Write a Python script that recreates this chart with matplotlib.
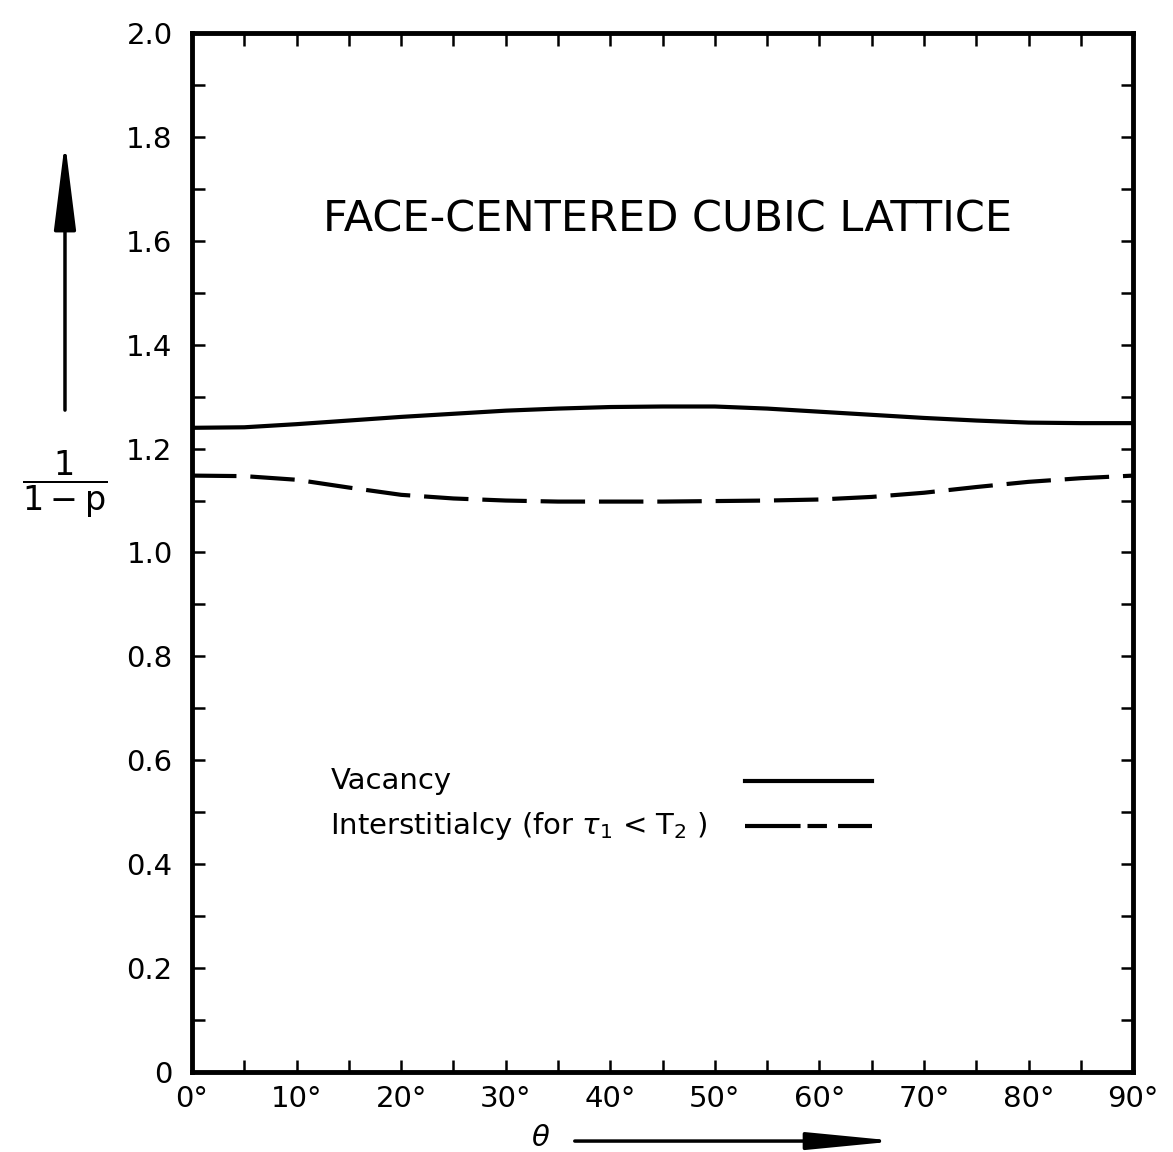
import matplotlib
matplotlib.use("Agg")
import matplotlib.pyplot as plt
from matplotlib.lines import Line2D
from matplotlib.patches import FancyArrowPatch
import numpy as np

plt.rcParams['font.family'] = ['DejaVu Sans']
plt.rcParams['mathtext.fontset'] = 'dejavusans'
plt.rcParams['lines.scale_dashes'] = False

theta = [0, 5, 10, 15, 20, 25, 30, 35, 40, 45, 50, 55, 60, 65, 70, 75, 80, 85, 90]
vacancy = [1.240, 1.241, 1.247, 1.254, 1.261, 1.267, 1.273, 1.277, 1.280, 1.281,
           1.281, 1.277, 1.271, 1.265, 1.259, 1.254, 1.250, 1.249, 1.249]
interstitialcy = [1.148, 1.147, 1.140, 1.125, 1.111, 1.104, 1.100, 1.098, 1.098, 1.098,
                  1.099, 1.100, 1.102, 1.107, 1.115, 1.126, 1.136, 1.143, 1.148]

xticks = [0, 10, 20, 30, 40, 50, 60, 70, 80, 90]
xticklabels = ['0°', '10°', '20°', '30°', '40°', '50°', '60°', '70°', '80°', '90°']
yticks = [0, 0.2, 0.4, 0.6, 0.8, 1.0, 1.2, 1.4, 1.6, 1.8, 2.0]
yticklabels = ['0', '0.2', '0.4', '0.6', '0.8', '1.0', '1.2', '1.4', '1.6', '1.8', '2.0']

title = 'FACE-CENTERED CUBIC LATTICE'
labels = ['Vacancy', r'Interstitialcy (for $\tau_1$ < T$_2$ )']

fig = plt.figure(figsize=(11.73, 11.52), dpi=100)
ax = fig.add_axes([0.1637, 0.0694, 0.8023, 0.902])

DASH = (32, 10)
ax.plot(theta, vacancy, color='black', lw=3.0, solid_capstyle='butt')
ax.plot(theta, interstitialcy, color='black', lw=3.0, dashes=DASH, dash_capstyle='butt')

ax.set_xlim(0, 90)
ax.set_ylim(0, 2.0)
ax.set_xticks(xticks)
ax.set_xticklabels(xticklabels)
ax.set_xticks(np.arange(5, 90, 10), minor=True)
ax.set_yticks(yticks)
ax.set_yticklabels(yticklabels)
ax.set_yticks(np.arange(0.1, 2.0, 0.2), minor=True)

ax.tick_params(which='both', direction='in', top=True, right=True, length=9, width=1.8,
               labelsize=21, color='black')
ax.tick_params(axis='y', which='major', labelright=False, pad=14)
ax.tick_params(axis='x', which='major', pad=9)
for s in ax.spines.values():
    s.set_linewidth(3.5)

ax.text(0.505, 0.82, title, transform=ax.transAxes, ha='center', va='center',
        fontsize=31)

# legend: text on the left, line samples aligned on the right
legend_rows_y = [0.280, 0.237]
for lab, yy, ls in zip(labels, legend_rows_y, ['solid', 'dashed']):
    ax.text(0.147, yy, lab, transform=ax.transAxes, ha='left', va='center', fontsize=21)
    ln = Line2D([0.5877, 0.7226], [yy, yy], transform=ax.transAxes, color='black', lw=3.0)
    if ls == 'dashed':
        ln.set_dashes((40, 5, 14, 8))
    ax.add_line(ln)

# y label with arrow
fig.text(0.0554, 0.580, r'$\dfrac{1}{1-\mathrm{p}}$', ha='center', va='center', fontsize=24)
fig.add_artist(FancyArrowPatch(
    (0.0554, 0.644), (0.0554, 0.877), transform=fig.transFigure,
    arrowstyle='-|>,head_length=3.6,head_width=0.45', mutation_scale=15,
    shrinkA=0, shrinkB=0, lw=2.5, color='black'))

# x label with arrow
fig.text(0.461, 0.0125, r'$\theta$', ha='center', va='center', fontsize=21)
fig.add_artist(FancyArrowPatch(
    (0.49, 0.0095), (0.765, 0.0095), transform=fig.transFigure,
    arrowstyle='-|>,head_length=3.6,head_width=0.35', mutation_scale=15,
    shrinkA=0, shrinkB=0, lw=2.5, color='black'))

fig.savefig('out.png', dpi=100, facecolor='white')
